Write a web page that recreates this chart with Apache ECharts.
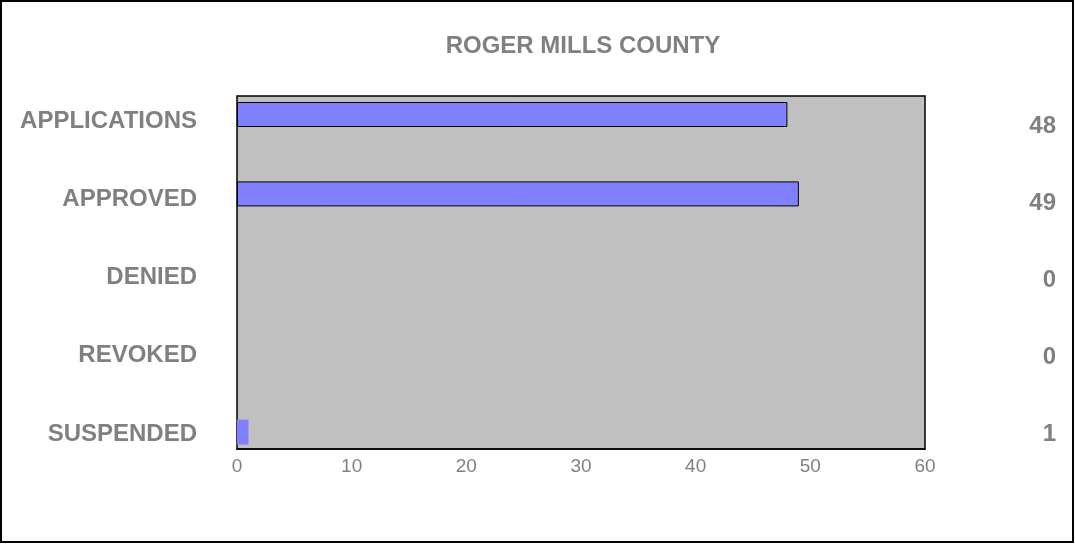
<!DOCTYPE html>
<html>
<head>
<meta charset="utf-8">
<script src="https://cdn.jsdelivr.net/npm/echarts@6/dist/echarts.min.js"></script>
<style>
html,body{margin:0;padding:0;background:#fff;}
#chart{width:1075px;height:544px;}
</style>
</head>
<body>
<div id="chart"></div>
<script>
var title = 'ROGER MILLS COUNTY';
var categories = ['APPLICATIONS', 'APPROVED', 'DENIED', 'REVOKED', 'SUSPENDED'];
var values = [48, 49, 0, 0, 1];
var xTicks = [0, 10, 20, 30, 40, 50, 60];

var font = 'Liberation Sans, Arial, sans-serif';
var gray = '#808080';
var revCats = categories.slice().reverse();
var revVals = values.slice().reverse();

var chart = echarts.init(document.getElementById('chart'));
chart.setOption({
  animation: false,
  backgroundColor: '#ffffff',
  title: {
    text: title, left: 578, top: 29, textAlign: 'center',
    textStyle: {fontFamily: font, fontSize: 24, fontWeight: 'bold', color: gray}
  },
  graphic: [{
    type: 'rect', shape: {x: 1, y: 1, width: 1072, height: 541},
    style: {fill: 'none', stroke: '#000', lineWidth: 2}, z: 100
  }],
  grid: [
    {left: 237, width: 688, top: 96, height: 353, show: true, backgroundColor: '#C0C0C0', borderColor: '#000', borderWidth: 1.5, z: 0},
    {left: 237, width: 688, top: 74.8, height: 397, show: false},
    {left: 237, width: 688, top: 82, height: 391, show: false},
    {left: 237, width: 688, top: 87.5, height: 385, show: false}
  ],
  xAxis: [
    {gridIndex: 0, type: 'value', min: xTicks[0], max: xTicks[xTicks.length - 1], interval: 10,
     axisLine: {show: true, lineStyle: {color: '#000', width: 1.5}}, axisTick: {show: false}, splitLine: {show: false},
     axisLabel: {fontFamily: font, fontSize: 19, color: gray, margin: 8}},
    {gridIndex: 1, type: 'value', min: 0, max: 60, show: false},
    {gridIndex: 2, type: 'value', min: 0, max: 60, show: false},
    {gridIndex: 3, type: 'value', min: 0, max: 60, show: false}
  ],
  yAxis: [
    {gridIndex: 0, type: 'category', data: revCats, show: false},
    {gridIndex: 1, type: 'category', data: revCats, show: false},
    {gridIndex: 2, type: 'category', data: revCats, position: 'left',
     axisLine: {show: false}, axisTick: {show: false},
     axisLabel: {fontFamily: font, fontSize: 24, fontWeight: 'bold', color: gray, margin: 40}},
    {gridIndex: 3, type: 'category', data: revVals.map(String), position: 'right',
     axisLine: {show: false}, axisTick: {show: false},
     axisLabel: {fontFamily: font, fontSize: 24, fontWeight: 'bold', color: gray, margin: 131, align: 'right'}}
  ],
  series: [{
    type: 'bar', xAxisIndex: 1, yAxisIndex: 1, barWidth: 25, z: 5,
    data: revVals.map(function (v) {
      return {value: v, itemStyle: {color: '#8080FF', borderColor: '#000', borderWidth: v > 1 ? 1 : 0}};
    })
  }]
});
</script>
</body>
</html>
